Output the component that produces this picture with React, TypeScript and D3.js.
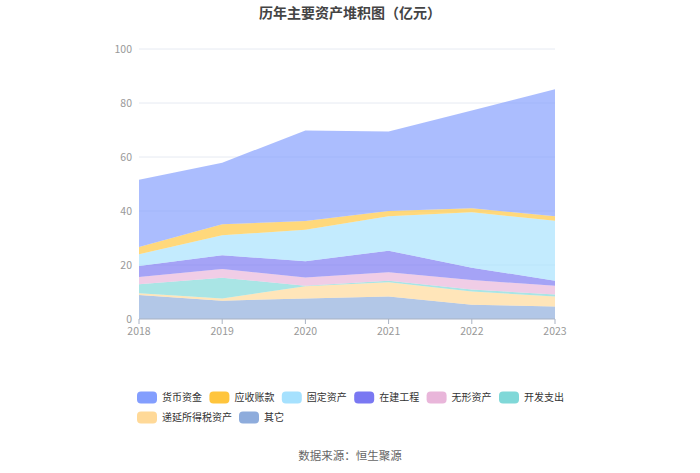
import React, { useMemo } from 'react';
import * as d3 from 'd3';

const YEARS = ['2018', '2019', '2020', '2021', '2022', '2023'];

// bottom-up stack order
const OTHER = [8.9, 6.8, 7.6, 8.3, 5.3, 4.6];
const DEFERRED_TAX = [0.6, 0.8, 4.5, 5.3, 4.9, 3.7];
const DEV_COST = [3.4, 7.7, 0.2, 0.6, 0.7, 0.8];
const INTANGIBLE = [2.7, 3.2, 3.1, 3.1, 3.5, 3.2];
const CONSTRUCTION = [4.0, 5.1, 6.0, 8.0, 4.6, 1.9];
const FIXED = [4.4, 7.4, 11.7, 12.8, 20.5, 22.2];
const RECEIVABLE = [2.7, 4.1, 3.2, 1.9, 1.5, 1.7];
const CASH = [24.9, 22.8, 33.5, 29.4, 36.2, 47.0];

const Y_TICKS = [0, 20, 40, 60, 80, 100];

const SERIES = [
  { key: 'other', name: '其它', color: '#8eacdc', values: OTHER },
  { key: 'deferred', name: '递延所得税资产', color: '#ffd998', values: DEFERRED_TAX },
  { key: 'dev', name: '开发支出', color: '#80d8d8', values: DEV_COST },
  { key: 'intangible', name: '无形资产', color: '#e9b6da', values: INTANGIBLE },
  { key: 'construction', name: '在建工程', color: '#7a78f2', values: CONSTRUCTION },
  { key: 'fixed', name: '固定资产', color: '#a6e1fe', values: FIXED },
  { key: 'receivable', name: '应收账款', color: '#ffc53d', values: RECEIVABLE },
  { key: 'cash', name: '货币资金', color: '#839efe', values: CASH },
];

const LEGEND_ORDER = ['cash', 'receivable', 'fixed', 'construction', 'intangible', 'dev', 'deferred', 'other'];

const W = 700;
const H = 473;
const PLOT = { left: 139, right: 555, top: 49, bottom: 319 };
const FONT = '"Noto Sans CJK SC", "Noto Sans", sans-serif';

export default function App() {
  const x = useMemo(
    () => d3.scalePoint<string>().domain(YEARS).range([PLOT.left, PLOT.right]),
    []
  );
  const y = useMemo(
    () => d3.scaleLinear().domain([0, 100]).range([PLOT.bottom, PLOT.top]),
    []
  );

  const stacked = useMemo(() => {
    const rows = YEARS.map((yr, i) => {
      const r: Record<string, number | string> = { year: yr };
      SERIES.forEach((s) => (r[s.key] = s.values[i]));
      return r;
    });
    return d3.stack<any>().keys(SERIES.map((s) => s.key))(rows);
  }, []);

  const area = d3
    .area<any>()
    .x((d) => x(d.data.year) as number)
    .y0((d) => y(d[0]))
    .y1((d) => y(d[1]));

  return (
    <svg width={W} height={H} style={{ position: 'absolute', left: 0, top: 0, fontFamily: FONT }}>
      <rect width={W} height={H} fill="#fff" />
      <text x={W / 2} y={18} textAnchor="middle" fontSize={14} fontWeight="bold" fill="#444">
        历年主要资产堆积图（亿元）
      </text>

      {/* grid */}
      {Y_TICKS.map((t) => (
        <g key={t}>
          {t > 0 && (
            <line x1={PLOT.left} x2={PLOT.right} y1={y(t)} y2={y(t)} stroke="#e6eaf2" strokeWidth={1} />
          )}
          <text x={132} y={y(t)} dy="0.35em" textAnchor="end" fontSize={10.5} fill="#999">
            {t}
          </text>
        </g>
      ))}

      {/* areas */}
      {stacked.map((layer, i) => (
        <path key={layer.key} d={area(layer) ?? ''} fill={SERIES[i].color} fillOpacity={0.68} />
      ))}

      {/* x axis */}
      <line x1={PLOT.left} x2={PLOT.right} y1={PLOT.bottom} y2={PLOT.bottom} stroke="#a9b2c3" />
      {YEARS.map((yr) => (
        <g key={yr} transform={`translate(${x(yr)},${PLOT.bottom})`}>
          <line y2={5} stroke="#a9b2c3" />
          <text y={16} textAnchor="middle" fontSize={10.5} fill="#999">
            {yr}
          </text>
        </g>
      ))}

      {/* legend */}
      {LEGEND_ORDER.map((k, i) => {
        const s = SERIES.find((d) => d.key === k)!;
        const row = i < 6 ? 0 : 1;
        const col = i < 6 ? i : i - 6;
        const lx = row === 0 ? 137 + col * 72.4 : 137 + col * 102;
        const ly = row === 0 ? 391.5 : 411.5;
        return (
          <g key={k} transform={`translate(${lx},${ly})`}>
            <rect width={20} height={12} rx={4} fill={s.color} />
            <text x={25} y={6} dy="0.35em" fontSize={10} fill="#333">
              {s.name}
            </text>
          </g>
        );
      })}

      <text x={W / 2} y={460} textAnchor="middle" fontSize={11.5} fill="#666">
        数据来源：恒生聚源
      </text>
    </svg>
  );
}
